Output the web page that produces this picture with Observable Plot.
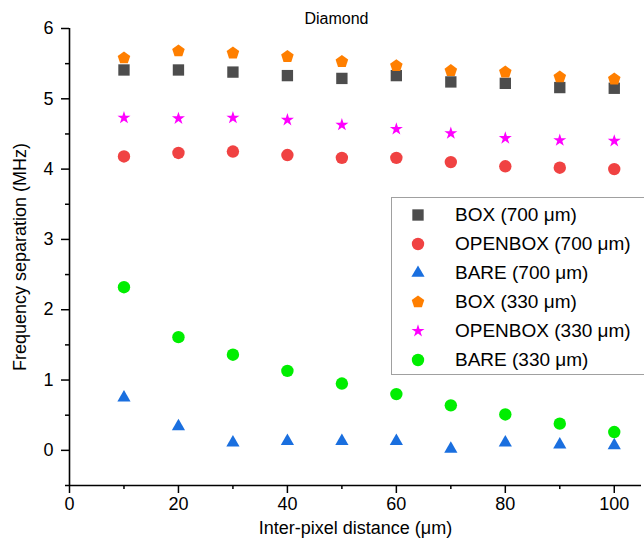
<!DOCTYPE html>
<html>
<head>
<meta charset="utf-8">
<script src="https://cdn.jsdelivr.net/npm/d3@7"></script>
<script src="https://cdn.jsdelivr.net/npm/@observablehq/plot@0.6"></script>
<style>
  body { margin: 0; background: #fff; font-family: "Liberation Sans", Arial, sans-serif; }
  #wrap { position: relative; width: 644px; height: 545px; overflow: hidden; }
  #legend { position: absolute; left: 391px; top: 197px; width: 258px; height: 178px;
            border: 1px solid #a0a0a0; background: #fff; box-sizing: border-box; padding-top: 2px; }
  .row { display: flex; align-items: center; height: 29px; font-size: 19px; color: #000; }
  .row svg { margin-left: 16px; margin-right: 27px; flex: none; }
</style>
</head>
<body>
<div id="wrap"><div id="chart"></div><div id="legend"></div></div>
<script>
// ---- data ----
const distances = [10, 20, 30, 40, 50, 60, 70, 80, 90, 100];
const box700     = [5.41, 5.41, 5.38, 5.33, 5.29, 5.33, 5.24, 5.22, 5.16, 5.15];
const openbox700 = [4.18, 4.23, 4.25, 4.20, 4.16, 4.16, 4.10, 4.04, 4.02, 4.00];
const bare700    = [0.75, 0.34, 0.11, 0.13, 0.13, 0.13, 0.02, 0.11, 0.08, 0.07];
const box330     = [5.58, 5.68, 5.65, 5.60, 5.53, 5.47, 5.40, 5.38, 5.31, 5.28];
const openbox330 = [4.73, 4.72, 4.73, 4.70, 4.63, 4.57, 4.51, 4.44, 4.41, 4.40];
const bare330    = [2.32, 1.61, 1.36, 1.13, 0.95, 0.80, 0.64, 0.51, 0.38, 0.26];
const seriesNames = ["BOX (700 μm)", "OPENBOX (700 μm)", "BARE (700 μm)",
                     "BOX (330 μm)", "OPENBOX (330 μm)", "BARE (330 μm)"];
const xTicks = [0, 20, 40, 60, 80, 100];
const xMinorTicks = [10, 30, 50, 70, 90];
const yTicks = [0, 1, 2, 3, 4, 5, 6];
const yMinorTicks = [-0.5, 0.5, 1.5, 2.5, 3.5, 4.5, 5.5];

// pentagon symbol
const pentagon = {
  draw(context, size) {
    const R = Math.sqrt(size / Math.PI);
    for (let k = 0; k < 5; k++) {
      const a = -Math.PI / 2 + k * 2 * Math.PI / 5;
      const px = R * Math.cos(a), py = R * Math.sin(a);
      if (k === 0) context.moveTo(px, py); else context.lineTo(px, py);
    }
    context.closePath();
  }
};

const styles = [
  { values: box700,     fill: "#4d4d4d", symbol: d3.symbolSquare,   r: 6.4 },
  { values: openbox700, fill: "#f04242", symbol: d3.symbolCircle,   r: 6.2 },
  { values: bare700,    fill: "#1a6fdf", symbol: d3.symbolTriangle, r: 4.9 },
  { values: box330,     fill: "#ff7f00", symbol: pentagon,          r: 6.6 },
  { values: openbox330, fill: "#ff00ff", symbol: d3.symbolStar,     r: 4.1 },
  { values: bare330,    fill: "#00ee00", symbol: d3.symbolCircle,   r: 6.2 }
];

const series = styles.map((s, i) => ({
  name: seriesNames[i], ...s,
  data: distances.map((d, j) => ({ x: d, y: s.values[j] }))
}));

const font = "'Liberation Sans', Arial, sans-serif";
const fmt = d3.format("d");

const chart = Plot.plot({
  width: 644,
  height: 545,
  marginLeft: 69,
  marginRight: 3,
  marginTop: 28,
  marginBottom: 60,
  style: { fontFamily: font, fontSize: "18px", color: "#000", background: "#fff" },
  x: { domain: [0, 105] },
  y: { domain: [-0.5, 6] },
  marks: [
    Plot.axisX({ ticks: xTicks, tickSize: 8, tickPadding: 4, strokeWidth: 1.5, label: null, fontSize: 18, tickFormat: fmt }),
    Plot.axisX({ ticks: xMinorTicks, tickSize: 4, strokeWidth: 1.5, tickFormat: () => "", label: null }),
    Plot.axisY({ ticks: yTicks, tickSize: 8, tickPadding: 8, strokeWidth: 1.5, label: null, fontSize: 18, tickFormat: fmt }),
    Plot.axisY({ ticks: yMinorTicks, tickSize: 4, strokeWidth: 1.5, tickFormat: () => "", label: null }),
    Plot.ruleY([-0.5], { strokeWidth: 1.6 }),
    Plot.ruleX([0], { strokeWidth: 1.6 }),
    ...series.map(s => Plot.dot(s.data, {
      x: "x", y: "y", r: s.r, symbol: () => s.symbol, fill: s.fill, stroke: null
    })),
    Plot.text(["Diamond"], { frameAnchor: "top", lineAnchor: "middle", dy: -10, dx: -19, fontSize: 16 }),
    Plot.text(["Inter-pixel distance (μm)"], { frameAnchor: "bottom", lineAnchor: "middle", dy: 43, fontSize: 18 }),
    Plot.text(["Frequency separation (MHz)"], { frameAnchor: "left", textAnchor: "middle", dx: -49, rotate: -90, fontSize: 18 })
  ]
});
document.getElementById("chart").appendChild(chart);

// legend
const legend = d3.select("#legend");
series.forEach(s => {
  const row = legend.append("div").attr("class", "row");
  const svg = row.append("svg").attr("width", 20).attr("height", 20);
  svg.append("path")
    .attr("transform", "translate(10,10)")
    .attr("fill", s.fill)
    .attr("d", d3.symbol(s.symbol, Math.PI * s.r * s.r)());
  row.append("span").text(s.name);
});
</script>
</body>
</html>
